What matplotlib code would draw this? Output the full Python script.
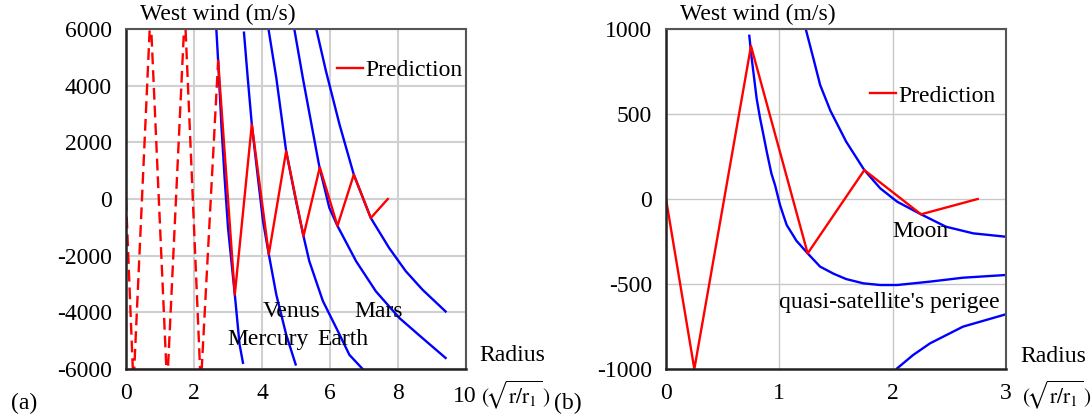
import matplotlib
matplotlib.use('Agg')
import matplotlib.pyplot as plt

# ---- data ----
# panel (a)
pred_a_x = [2.71, 3.2, 3.7, 4.2, 4.71, 5.22, 5.7, 6.22, 6.7, 7.2, 7.7]
pred_a_y = [4870, -3370, 2630, -1950, 1690, -1310, 1120, -950, 860, -670, 0]
dash_a_x = [0, 0.22, 0.72, 1.21, 1.73, 2.2, 2.71]
dash_a_y = [0, -6600, 6600, -6600, 6600, -6600, 4870]

mercury_x = [2.66, 2.71, 2.81, 2.90, 3.0, 3.2, 3.34, 3.44]
mercury_y = [5930, 4870, 2520, 750, -1010, -3370, -5130, -5780]
venus_x = [3.47, 3.58, 3.70, 3.88, 4.03, 4.20, 4.42, 4.71, 4.99]
venus_y = [5870, 4280, 2630, 750, -780, -1950, -3370, -4780, -5840]
earth_x = [4.20, 4.42, 4.71, 5.0, 5.22, 5.39, 5.79, 6.28, 6.57, 6.96]
earth_y = [5930, 4280, 1690, -70, -1310, -2190, -3600, -4780, -5500, -6000]
mars_x = [4.96, 5.2, 5.40, 5.69, 5.98, 6.22, 6.77, 7.35, 8.04, 8.72, 9.4]
mars_y = [5930, 4280, 2990, 1120, -310, -950, -2200, -3260, -4200, -4910, -5610]
outer_x = [5.61, 5.88, 6.28, 6.7, 7.2, 7.74, 8.23, 8.72, 9.4]
outer_y = [5930, 4520, 2630, 860, -670, -1730, -2550, -3200, -3970]

# panel (b)
pred_b_x = [0, 0.25, 0.75, 1.25, 1.75, 2.25, 2.75]
pred_b_y = [0, -1000, 900, -320, 170, -90, 0]
perigee_x = [0.735, 0.756, 0.80, 0.83, 0.86, 0.889, 0.93, 0.962, 1.006, 1.035,
             1.065, 1.12, 1.15, 1.25, 1.36, 1.48, 1.59, 1.74, 1.89, 2.04,
             2.33, 2.62, 3.0]
perigee_y = [960, 828, 590, 475, 376, 278, 150, 82, -35, -94,
             -153, -212, -245, -320, -398, -440, -471, -496, -506, -506,
             -486, -463, -447]
moon_x = [1.233, 1.30, 1.36, 1.45, 1.59, 1.75, 1.89, 2.04, 2.25, 2.47, 2.71, 3.0]
moon_y = [1000, 828, 671, 520, 337, 170, 63, -16, -90, -163, -202, -222]
low_x = [2.04, 2.18, 2.33, 2.62, 3.0]
low_y = [-996, -918, -849, -751, -678]

ticks_a_x = [0, 2, 4, 6, 8, 10]
ticks_a_y = [-6000, -4000, -2000, 0, 2000, 4000, 6000]
ticks_b_x = [0, 1, 2, 3]
ticks_b_y = [-1000, -500, 0, 500, 1000]

FS = 17
plt.rcParams['font.family'] = 'Liberation Serif'
plt.rcParams['mathtext.fontset'] = 'stix'
plt.rcParams['font.size'] = FS

W, H = 1092, 419
fig = plt.figure(figsize=(W / 100, H / 100), dpi=100)


def px(x, y):
    return x / W, 1 - y / H


def style_axes(ax, grid_lw, grid_col):
    ax.grid(True, color=grid_col, lw=grid_lw)
    ax.set_axisbelow(True)
    ax.tick_params(length=0, labelsize=FS, pad=10)
    for s in ['top', 'right']:
        ax.spines[s].set_color('#555555')
        ax.spines[s].set_linewidth(1.5)
    for s in ['left', 'bottom']:
        ax.spines[s].set_color('#222222')
        ax.spines[s].set_linewidth(1.8)


blue = '#0000ff'
red = '#ff0000'

# ---- panel (a) ----
ax1 = fig.add_axes([126 / W, 50 / H, 340 / W, 340 / H])
for cx, cy in [(mercury_x, mercury_y), (venus_x, venus_y), (earth_x, earth_y),
               (mars_x, mars_y), (outer_x, outer_y)]:
    ax1.plot(cx, cy, color=blue, lw=1.7)
ax1.plot(dash_a_x, dash_a_y, color=red, lw=1.7, dashes=(5, 2.5))
ax1.plot(pred_a_x, pred_a_y, color=red, lw=1.7, label='Prediction')
ax1.set_xlim(0, 10)
ax1.set_ylim(-6000, 6000)
ax1.set_xticks(ticks_a_x)
ax1.set_yticks(ticks_a_y)
ax1.set_yticklabels([str(v) for v in ticks_a_y])
ax1.set_xticklabels(['0', '2', '4', '6', '8', ''])
style_axes(ax1, 1.5, '#d0d0d0')
ax1.legend(loc='center left', bbox_to_anchor=(0.62, 0.879), frameon=False,
           handlelength=1.1, handletextpad=0.1, borderpad=0, borderaxespad=0,
           fontsize=FS)
ax1.text(4.02, -3980, 'Venus', va='center', fontsize=FS)
ax1.text(6.72, -3980, 'Mars', va='center', fontsize=FS)
ax1.text(2.99, -4970, 'Mercury', va='center', fontsize=FS)
ax1.text(5.63, -4970, 'Earth', va='center', fontsize=FS)

# ---- panel (b) ----
ax2 = fig.add_axes([666 / W, 50 / H, 340 / W, 340 / H])
for cx, cy in [(perigee_x, perigee_y), (moon_x, moon_y), (low_x, low_y)]:
    ax2.plot(cx, cy, color=blue, lw=1.7)
ax2.plot(pred_b_x, pred_b_y, color=red, lw=1.7, label='Prediction')
ax2.set_xlim(0, 3)
ax2.set_ylim(-1000, 1000)
ax2.set_xticks(ticks_b_x)
ax2.set_yticks(ticks_b_y)
ax2.set_yticklabels([str(v) for v in ticks_b_y])
style_axes(ax2, 1.0, '#c8c8c8')
ax2.legend(loc='center left', bbox_to_anchor=(0.6, 0.803), frameon=False,
           handlelength=1.1, handletextpad=0.1, borderpad=0, borderaxespad=0,
           fontsize=FS)
ax2.text(2.0, -194, 'Moon', va='center', fontsize=FS)
ax2.text(1.0, -606, "quasi-satellite's perigee", va='center', fontsize=FS)

# ---- figure-level labels ----
radical = r'$(\!\sqrt{\mathrm{r/r}_1}\,)$'
fig.text(*px(140, 14), 'West wind (m/s)', va='center', ha='left', fontsize=FS)
fig.text(*px(680, 14), 'West wind (m/s)', va='center', ha='left', fontsize=FS)
fig.text(*px(465, 396), '10', va='center', ha='center', fontsize=FS)
fig.text(*px(479, 355), 'Radius', va='center', ha='left', fontsize=FS)
fig.text(*px(481, 395), radical, va='center', ha='left', fontsize=15.5)
fig.text(*px(1020, 356), 'Radius', va='center', ha='left', fontsize=FS)
fig.text(*px(1022, 395), radical, va='center', ha='left', fontsize=15.5)
fig.text(*px(11, 403), '(a)', va='center', ha='left', fontsize=FS)
fig.text(*px(554, 403), '(b)', va='center', ha='left', fontsize=FS)

fig.savefig('out.png', dpi=100)
